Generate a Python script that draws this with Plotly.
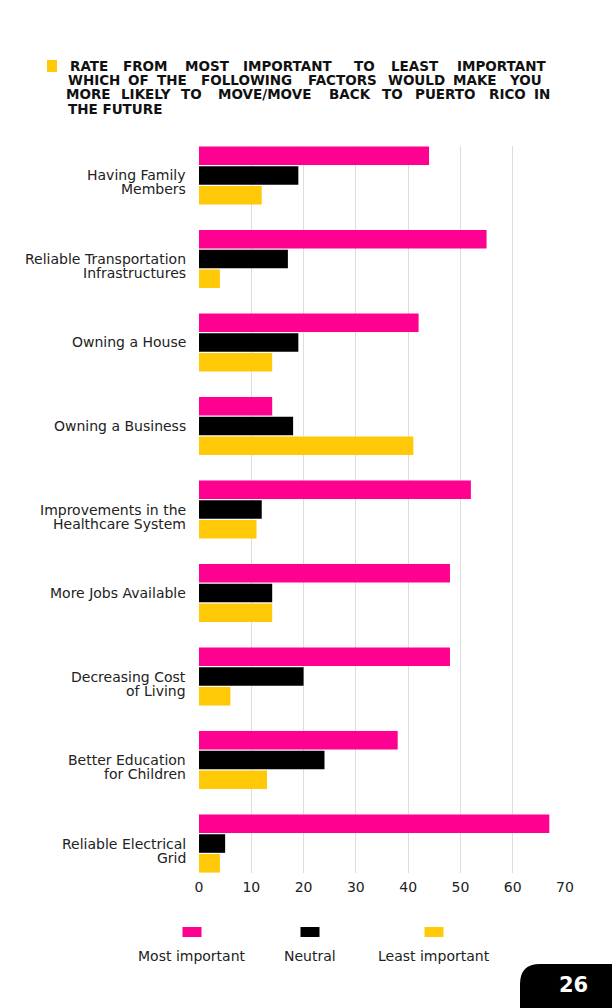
import plotly.graph_objects as go

W, H = 612, 1008
# plot area in pixels
L, R, T, B = 199, 565, 146, 873

factors = [
  "Having Family<br>Members",
  "Reliable Transportation<br>Infrastructures",
  "Owning a House",
  "Owning a Business",
  "Improvements in the<br>Healthcare System",
  "More Jobs Available",
  "Decreasing Cost<br>of Living",
  "Better Education<br>for Children",
  "Reliable Electrical<br>Grid",
]
most_important = [44, 55, 42, 14, 52, 48, 48, 38, 67]
neutral = [19, 17, 19, 18, 12, 14, 20, 24, 5]
least_important = [12, 4, 14, 41, 11, 14, 6, 13, 4]

series_names = ["Most important", "Neutral", "Least important"]
series_colors = ["#FF0090", "#000000", "#FFC907"]
x_ticks = [0, 10, 20, 30, 40, 50, 60, 70]

title_lines = [
  "RATE FROM MOST IMPORTANT TO LEAST IMPORTANT",
  "WHICH OF THE FOLLOWING FACTORS WOULD MAKE YOU",
  "MORE LIKELY TO MOVE/MOVE BACK TO PUERTO RICO IN",
  "THE FUTURE",
]
# centre (px) of each word of the justified title; None = left aligned line
title_word_x = [
  [88.5, 145.5, 207, 287.5, 364.5, 415, 502],
  [93.5, 138.5, 172, 246, 342, 416.5, 475, 525.5],
  [88.5, 145.5, 191, 264.5, 350, 392.5, 445, 507, 541.5],
  None,
]
title_line_y = [66, 80.2, 94.4, 108.6]
TITLE_LEFT = 67

FONT = "DejaVu Sans"
TEXT = "#222222"


def px_x(px):
  return (px - L) / (R - L)


def px_y(py):
  return (B - py) / (B - T)


fig = go.Figure()
for name, vals, col in zip(series_names, [most_important, neutral, least_important], series_colors):
  fig.add_trace(go.Bar(
    y=factors, x=vals, name=name, orientation="h",
    marker=dict(color=col, line=dict(width=0)),
    showlegend=False,
  ))

fig.update_layout(
  width=W, height=H,
  margin=dict(l=L, r=W - R, t=T, b=H - B),
  paper_bgcolor="white", plot_bgcolor="white",
  barmode="group", bargap=0.29, bargroupgap=0.06,
  font=dict(family=FONT, color=TEXT, size=14),
  xaxis=dict(
    range=[0, 70], tickvals=x_ticks, showgrid=True, gridcolor="#DDDDDD",
    gridwidth=1, zeroline=False, showline=False, ticks="",
    tickfont=dict(size=14, color=TEXT), ticklabelstandoff=4,
  ),
  yaxis=dict(
    range=[len(factors) - 1 + 0.353, -0.353], showgrid=False, zeroline=False,
    showline=False, ticks="", showticklabels=False,
  ),
)

# category labels: first line centred on the group, tight line spacing
for i, lab in enumerate(factors):
  for j, part in enumerate(lab.split("<br>")):
    fig.add_annotation(
      xref="paper", yref="y", x=px_x(188), y=i, yshift=-14 * j,
      xanchor="right", yanchor="middle", showarrow=False, text=part,
      font=dict(family=FONT, size=14, color=TEXT),
    )

# title block, justified word by word
title_font = dict(family=FONT, size=13.5, color="#111111")
for line, xs, ly in zip(title_lines, title_word_x, title_line_y):
  if xs is None:
    fig.add_annotation(
      xref="paper", yref="paper", x=px_x(TITLE_LEFT), y=px_y(ly),
      xanchor="left", yanchor="middle", showarrow=False, borderpad=0,
      text=f"<b>{line}</b>", font=title_font,
    )
    continue
  for w, wx in zip(line.split(" "), xs):
    fig.add_annotation(
      xref="paper", yref="paper", x=px_x(wx), y=px_y(ly),
      xanchor="center", yanchor="middle", showarrow=False, borderpad=0,
      text=f"<b>{w}</b>", font=title_font,
    )
fig.add_shape(type="rect", xref="paper", yref="paper",
  x0=px_x(47), x1=px_x(57), y0=px_y(60), y1=px_y(72),
  fillcolor="#FFC907", line=dict(width=0))

# legend: swatch above label
legend_pos = [192, 310, 434]
for name, col, cx in zip(series_names, series_colors, legend_pos):
  fig.add_shape(type="rect", xref="paper", yref="paper",
    x0=px_x(cx - 9.5), x1=px_x(cx + 9.5), y0=px_y(927), y1=px_y(937),
    fillcolor=col, line=dict(width=0))
  fig.add_annotation(xref="paper", yref="paper", x=px_x(cx), y=px_y(956),
    text=name, showarrow=False, xanchor="center", yanchor="middle",
    font=dict(family=FONT, size=14, color=TEXT))

# page number tab
r = 20
x0, y0, x1, y1 = px_x(520), px_y(1010), px_x(W + 2), px_y(964)
fig.add_shape(type="path", xref="paper", yref="paper",
  path=(f"M {x0} {y0} L {x0} {px_y(964 + r)} "
        f"Q {x0} {y1} {px_x(520 + r)} {y1} L {x1} {y1} L {x1} {y0} Z"),
  fillcolor="black", line=dict(width=0))
fig.add_annotation(xref="paper", yref="paper", x=px_x(573), y=px_y(985),
  text="<b>26</b>", showarrow=False, xanchor="center", yanchor="middle",
  font=dict(family=FONT, size=21, color="white"))

fig.write_html(
  "out.html",
  config={"displayModeBar": False},
  post_script="document.body.style.margin = '0';",
)
